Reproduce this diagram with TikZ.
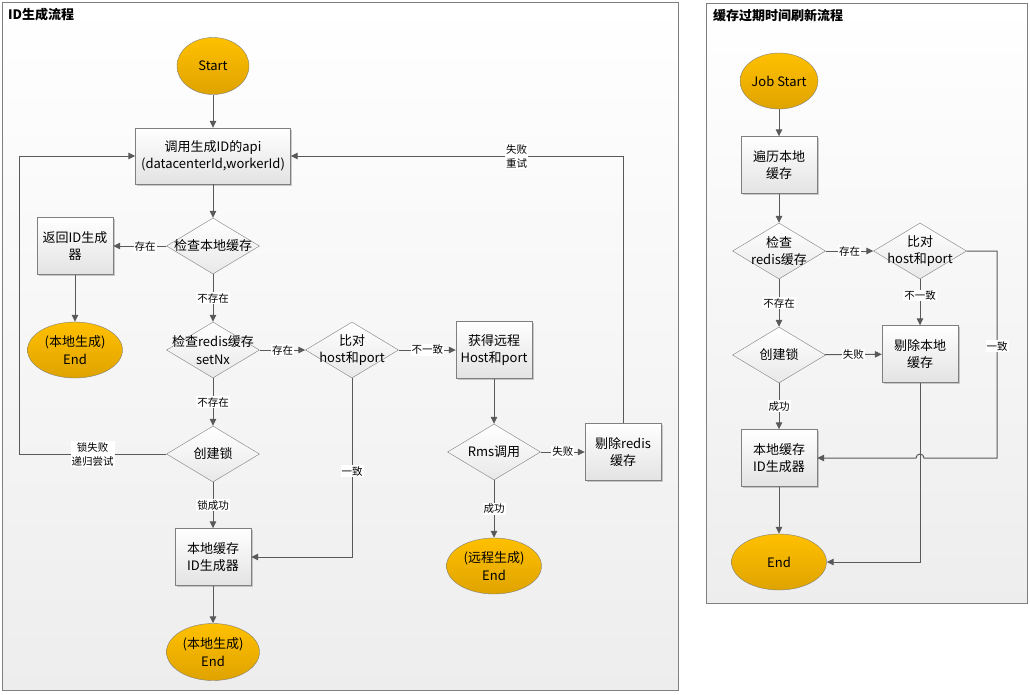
\documentclass[tikz,border=0pt]{standalone}
\usepackage{fontspec}
\setmainfont{Noto Sans CJK SC}
\usetikzlibrary{shapes.geometric,arrows.meta,shadows}
\definecolor{linegray}{HTML}{595959}
\definecolor{framegray}{HTML}{7F7F7F}
\definecolor{gold1}{HTML}{FFC000}
\definecolor{gold2}{HTML}{DFA300}
\newcommand{\zw}[1]{\makebox[0pt]{#1}}
\tikzset{
  nodefont/.style={font=\fontsize{13}{17.5}\selectfont},
  box/.style={rectangle,draw=framegray,nodefont,top color=white,bottom color=black!11,minimum width=76pt,minimum height=57pt,inner sep=2pt,align=center,drop shadow={shadow xshift=1.5pt,shadow yshift=-1.5pt,fill=black!40}},
  decision/.style={diamond,draw=framegray,nodefont,top color=white,bottom color=black!9,minimum width=93pt,minimum height=56pt,inner sep=0pt,align=center},
  term/.style={ellipse,draw=framegray,nodefont,top color=gold1,bottom color=gold2,minimum width=95pt,minimum height=56pt,inner sep=0pt,align=center},
  panel/.style={draw=framegray,line width=1pt,top color=white,bottom color=black!7},
  title/.style={font=\fontsize{13}{15}\selectfont\bfseries,anchor=west,inner sep=0pt},
  lbl/.style={fill=white,inner sep=1pt,font=\fontsize{10.5}{14}\selectfont,align=center},
  arr/.style={draw=linegray,line width=1pt,-{Triangle[length=7pt,width=6.5pt]}},
}
\begin{document}
\begin{tikzpicture}[x=1pt,y=-1pt]
\useasboundingbox (0,0) rectangle (1030,694);
% panels
\draw[panel] (2,2) rectangle (678,690);
\draw[panel] (706,3) rectangle (1027,603);
\node[title] (t1) at (8,15) {ID生成流程};
\node[title] (t2) at (713,16) {缓存过期时间刷新流程};

% ID生成流程
\node[term,minimum width=72pt,minimum height=57pt] (start) at (213,66) {Start};
\node[box,minimum width=155pt,minimum height=56pt] (api) at (213,156) {调用生成ID的api\\(datacenterId,workerId)};
\node[decision] (chkl) at (213,246) {\zw{检查本地缓存}};
\node[box] (ret) at (75,246) {返回ID生成\\器};
\node[term] (endl) at (75,350) {(本地生成)\\End};
\node[decision] (chkr) at (213,350) {\zw{检查redis缓存}\\\zw{setNx}};
\node[decision] (cmp) at (352,350) {\zw{比对}\\\zw{host和port}};
\node[box] (get) at (494,350) {获得远程\\Host和port};
\node[decision] (rms) at (494,452) {\zw{Rms调用}};
\node[box] (delr) at (623,452) {剔除redis\\缓存};
\node[term] (endr) at (494,566) {(远程生成)\\End};
\node[decision] (lock) at (213,454) {\zw{创建锁}};
\node[box] (gen) at (213,557) {本地缓存\\ID生成器};
\node[term,minimum width=93pt,minimum height=57pt] (end) at (213,652) {(本地生成)\\End};

\coordinate (c1) at (19,454);
\draw[arr] (start) -- (api);
\draw[arr] (api) -- (chkl);
\draw[arr] (chkl) -- node[lbl,pos=.4]{存在} (ret);
\draw[arr] (ret) -- (endl);
\draw[arr] (chkl) -- node[lbl]{不存在} (chkr);
\draw[arr] (chkr) -- node[lbl]{存在} (cmp);
\draw[arr] (chkr) -- node[lbl]{不存在} (lock);
\draw[arr] (lock) -- node[lbl]{锁失败\\递归尝试} (c1) |- (api.west);
\draw[arr] (lock) -- node[lbl]{锁成功} (gen);
\draw[arr] (gen) -- (end);
\draw[arr] (cmp) -- node[lbl]{不一致} (get);
\draw[arr] (cmp.south) |- node[lbl,pos=.26]{一致} (gen.east);
\draw[arr] (get) -- (rms);
\draw[arr] (rms) -- node[lbl]{失败} (delr);
\draw[arr] (rms) -- node[lbl]{成功} (endr);
\draw[arr] (delr.north) |- node[lbl,pos=.66]{失败\\重试} (api.east);

% 缓存过期时间刷新流程
\node[term,minimum width=72pt] (job) at (779,81) {Job Start};
\node[box] (trav) at (779,165) {遍历本地\\缓存};
\node[decision] (chk2) at (779,251) {\zw{检查}\\\zw{redis缓存}};
\node[decision] (cmp2) at (920,251) {\zw{比对}\\\zw{host和port}};
\node[decision] (lock2) at (779,355) {\zw{创建锁}};
\node[box] (del2) at (920,354) {剔除本地\\缓存};
\node[box] (gen2) at (779,458) {本地缓存\\ID生成器};
\node[term] (end2) at (779,562) {End};

\coordinate (c3) at (997,458);
\coordinate (hop) at (924,458);
\draw[arr] (job) -- (trav);
\draw[arr] (trav) -- (chk2);
\draw[arr] (chk2) -- node[lbl]{存在} (cmp2);
\draw[arr] (chk2) -- node[lbl]{不存在} (lock2);
\draw[arr] (cmp2) -- node[lbl,pos=.35]{不一致} (del2);
\draw[arr] (lock2) -- node[lbl]{失败} (del2);
\draw[arr] (lock2) -- node[lbl]{成功} (gen2);
\draw[arr] (gen2) -- (end2);
\draw[arr] (del2) |- (end2);
\draw[arr] (cmp2.east) -| node[lbl,pos=.73]{一致} (c3) -- (hop) arc[start angle=0,end angle=180,radius=4pt] -- (gen2.east);
\end{tikzpicture}
\end{document}
